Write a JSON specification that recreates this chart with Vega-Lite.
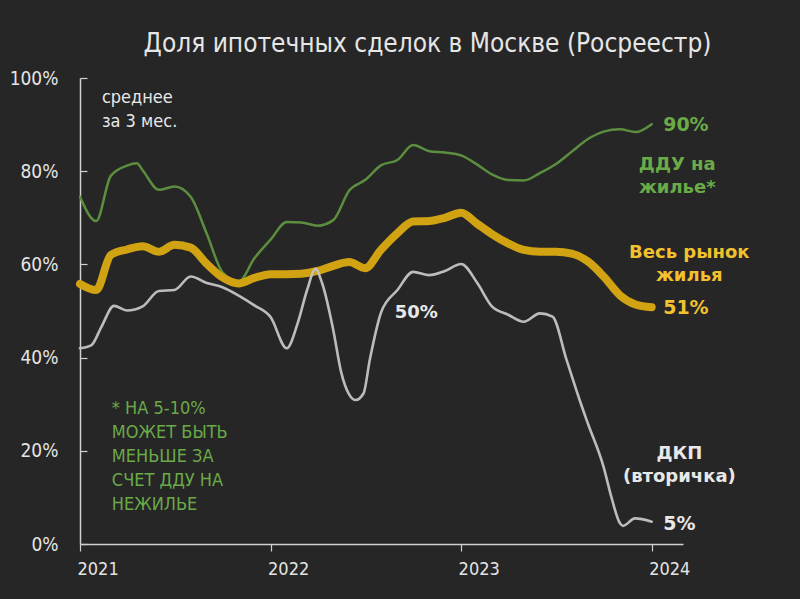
{
  "$schema": "https://vega.github.io/schema/vega-lite/v6.json",
  "autosize": {"type": "none"},
  "padding": {"left": 80, "top": 78, "right": 117, "bottom": 55},
  "width": 603,
  "height": 466,
  "background": "#262626",
  "config": {
    "view": {"stroke": null},
    "font": "DejaVu Sans Condensed",
    "axis": {"labelFont": "DejaVu Sans Condensed", "labelColor": "#e4e4e4", "domainColor": "#d0d0d0", "tickColor": "#d0d0d0", "grid": false, "title": null}
  },
  "title": {
    "text": "Доля ипотечных сделок в Москве (Росреестр)",
    "font": "DejaVu Sans Condensed",
    "fontSize": 26,
    "fontWeight": "normal",
    "color": "#e6e6e6",
    "anchor": "middle",
    "frame": "group",
    "dx": 46,
    "offset": -9,
    "baseline": "alphabetic"
  },
  "datasets": {
    "series": [
      {"s": "ДДУ", "d": "2021-01-01", "v": 74.5},
      {"s": "ДДУ", "d": "2021-02-01", "v": 69.3},
      {"s": "ДДУ", "d": "2021-03-01", "v": 79.0},
      {"s": "ДДУ", "d": "2021-04-01", "v": 81.2},
      {"s": "ДДУ", "d": "2021-04-20", "v": 81.7},
      {"s": "ДДУ", "d": "2021-05-01", "v": 80.2},
      {"s": "ДДУ", "d": "2021-06-01", "v": 76.0},
      {"s": "ДДУ", "d": "2021-07-01", "v": 76.7},
      {"s": "ДДУ", "d": "2021-08-01", "v": 74.5},
      {"s": "ДДУ", "d": "2021-09-01", "v": 66.5},
      {"s": "ДДУ", "d": "2021-10-01", "v": 58.3},
      {"s": "ДДУ", "d": "2021-11-01", "v": 56.3},
      {"s": "ДДУ", "d": "2021-12-01", "v": 61.3},
      {"s": "ДДУ", "d": "2022-01-01", "v": 65.3},
      {"s": "ДДУ", "d": "2022-02-01", "v": 69.1},
      {"s": "ДДУ", "d": "2022-03-01", "v": 69.0},
      {"s": "ДДУ", "d": "2022-04-01", "v": 68.3},
      {"s": "ДДУ", "d": "2022-05-01", "v": 69.5},
      {"s": "ДДУ", "d": "2022-06-01", "v": 75.9},
      {"s": "ДДУ", "d": "2022-07-01", "v": 78.1},
      {"s": "ДДУ", "d": "2022-08-01", "v": 81.3},
      {"s": "ДДУ", "d": "2022-09-01", "v": 82.4},
      {"s": "ДДУ", "d": "2022-10-01", "v": 85.6},
      {"s": "ДДУ", "d": "2022-11-01", "v": 84.3},
      {"s": "ДДУ", "d": "2022-12-01", "v": 84.0},
      {"s": "ДДУ", "d": "2023-01-01", "v": 83.4},
      {"s": "ДДУ", "d": "2023-02-01", "v": 81.4},
      {"s": "ДДУ", "d": "2023-03-01", "v": 79.3},
      {"s": "ДДУ", "d": "2023-04-01", "v": 78.1},
      {"s": "ДДУ", "d": "2023-05-01", "v": 78.0},
      {"s": "ДДУ", "d": "2023-06-01", "v": 79.6},
      {"s": "ДДУ", "d": "2023-07-01", "v": 81.5},
      {"s": "ДДУ", "d": "2023-08-01", "v": 84.2},
      {"s": "ДДУ", "d": "2023-09-01", "v": 86.9},
      {"s": "ДДУ", "d": "2023-10-01", "v": 88.5},
      {"s": "ДДУ", "d": "2023-11-01", "v": 89.0},
      {"s": "ДДУ", "d": "2023-12-01", "v": 88.4},
      {"s": "ДДУ", "d": "2024-01-01", "v": 90.1},
      {"s": "Весь", "d": "2021-01-01", "v": 55.8},
      {"s": "Весь", "d": "2021-02-01", "v": 54.5},
      {"s": "Весь", "d": "2021-03-01", "v": 62.0},
      {"s": "Весь", "d": "2021-04-01", "v": 63.2},
      {"s": "Весь", "d": "2021-05-01", "v": 63.9},
      {"s": "Весь", "d": "2021-06-01", "v": 62.7},
      {"s": "Весь", "d": "2021-07-01", "v": 64.2},
      {"s": "Весь", "d": "2021-08-01", "v": 63.6},
      {"s": "Весь", "d": "2021-09-01", "v": 60.1},
      {"s": "Весь", "d": "2021-10-01", "v": 57.2},
      {"s": "Весь", "d": "2021-11-01", "v": 55.9},
      {"s": "Весь", "d": "2021-12-01", "v": 57.1},
      {"s": "Весь", "d": "2022-01-01", "v": 57.9},
      {"s": "Весь", "d": "2022-02-01", "v": 57.9},
      {"s": "Весь", "d": "2022-03-01", "v": 58.0},
      {"s": "Весь", "d": "2022-04-01", "v": 58.6},
      {"s": "Весь", "d": "2022-05-01", "v": 59.7},
      {"s": "Весь", "d": "2022-06-01", "v": 60.5},
      {"s": "Весь", "d": "2022-07-01", "v": 59.2},
      {"s": "Весь", "d": "2022-08-01", "v": 63.2},
      {"s": "Весь", "d": "2022-09-01", "v": 66.7},
      {"s": "Весь", "d": "2022-10-01", "v": 69.2},
      {"s": "Весь", "d": "2022-11-01", "v": 69.3},
      {"s": "Весь", "d": "2022-12-01", "v": 70.0},
      {"s": "Весь", "d": "2023-01-01", "v": 71.1},
      {"s": "Весь", "d": "2023-02-01", "v": 68.7},
      {"s": "Весь", "d": "2023-03-01", "v": 66.5},
      {"s": "Весь", "d": "2023-04-01", "v": 64.5},
      {"s": "Весь", "d": "2023-05-01", "v": 63.1},
      {"s": "Весь", "d": "2023-06-01", "v": 62.7},
      {"s": "Весь", "d": "2023-07-01", "v": 62.7},
      {"s": "Весь", "d": "2023-08-01", "v": 62.3},
      {"s": "Весь", "d": "2023-09-01", "v": 60.6},
      {"s": "Весь", "d": "2023-10-01", "v": 57.4},
      {"s": "Весь", "d": "2023-11-01", "v": 53.4},
      {"s": "Весь", "d": "2023-12-01", "v": 51.4},
      {"s": "Весь", "d": "2024-01-01", "v": 50.8},
      {"s": "ДКП", "d": "2021-01-01", "v": 42.0},
      {"s": "ДКП", "d": "2021-01-23", "v": 42.7},
      {"s": "ДКП", "d": "2021-02-11", "v": 46.6},
      {"s": "ДКП", "d": "2021-03-07", "v": 51.1},
      {"s": "ДКП", "d": "2021-04-01", "v": 50.1},
      {"s": "ДКП", "d": "2021-05-01", "v": 51.0},
      {"s": "ДКП", "d": "2021-06-01", "v": 54.3},
      {"s": "ДКП", "d": "2021-07-01", "v": 54.5},
      {"s": "ДКП", "d": "2021-08-01", "v": 57.4},
      {"s": "ДКП", "d": "2021-09-01", "v": 56.0},
      {"s": "ДКП", "d": "2021-10-01", "v": 55.1},
      {"s": "ДКП", "d": "2021-11-01", "v": 53.3},
      {"s": "ДКП", "d": "2021-12-01", "v": 51.2},
      {"s": "ДКП", "d": "2022-01-01", "v": 48.7},
      {"s": "ДКП", "d": "2022-02-01", "v": 42.0},
      {"s": "ДКП", "d": "2022-02-22", "v": 47.4},
      {"s": "ДКП", "d": "2022-03-12", "v": 54.5},
      {"s": "ДКП", "d": "2022-03-28", "v": 59.0},
      {"s": "ДКП", "d": "2022-04-10", "v": 55.9},
      {"s": "ДКП", "d": "2022-05-01", "v": 46.0},
      {"s": "ДКП", "d": "2022-05-16", "v": 37.0},
      {"s": "ДКП", "d": "2022-06-01", "v": 32.0},
      {"s": "ДКП", "d": "2022-06-13", "v": 30.9},
      {"s": "ДКП", "d": "2022-06-28", "v": 32.3},
      {"s": "ДКП", "d": "2022-07-10", "v": 39.5},
      {"s": "ДКП", "d": "2022-08-01", "v": 49.8},
      {"s": "ДКП", "d": "2022-09-01", "v": 54.5},
      {"s": "ДКП", "d": "2022-10-01", "v": 58.4},
      {"s": "ДКП", "d": "2022-11-01", "v": 57.7},
      {"s": "ДКП", "d": "2022-12-01", "v": 58.6},
      {"s": "ДКП", "d": "2023-01-01", "v": 60.1},
      {"s": "ДКП", "d": "2023-02-01", "v": 56.0},
      {"s": "ДКП", "d": "2023-03-01", "v": 51.0},
      {"s": "ДКП", "d": "2023-04-01", "v": 49.2},
      {"s": "ДКП", "d": "2023-05-01", "v": 47.7},
      {"s": "ДКП", "d": "2023-06-01", "v": 49.5},
      {"s": "ДКП", "d": "2023-06-25", "v": 48.8},
      {"s": "ДКП", "d": "2023-07-22", "v": 39.5},
      {"s": "ДКП", "d": "2023-08-16", "v": 30.9},
      {"s": "ДКП", "d": "2023-09-01", "v": 25.8},
      {"s": "ДКП", "d": "2023-10-01", "v": 16.5},
      {"s": "ДКП", "d": "2023-10-16", "v": 10.0},
      {"s": "ДКП", "d": "2023-11-01", "v": 4.5},
      {"s": "ДКП", "d": "2023-11-07", "v": 3.9},
      {"s": "ДКП", "d": "2023-11-30", "v": 5.5},
      {"s": "ДКП", "d": "2024-01-01", "v": 4.8}
    ],
    "endLabels": [
      {"t": "90%", "d": "2024-01-23", "v": 89.9, "k": "ДДУ"},
      {"t": "51%", "d": "2024-01-23", "v": 50.6, "k": "Весь"},
      {"t": "5%", "d": "2024-01-23", "v": 4.3, "k": "ДКП"}
    ],
    "seriesLabels": [
      {"t": "ДДУ на\nжилье*", "d": "2024-02-19", "v": 81.3, "k": "ДДУ"},
      {"t": "Весь рынок\nжилья", "d": "2024-03-13", "v": 62.4, "k": "Весь"},
      {"t": "ДКП\n(вторичка)", "d": "2024-02-23", "v": 19.3, "k": "ДКП"},
      {"t": "50%", "d": "2022-10-07", "v": 49.6, "k": "ДКП"}
    ],
    "notes": [
      {"t": "среднее\nза 3 мес.", "d": "2021-02-12", "v": 95.7, "k": "avg"},
      {"t": "* НА 5-10%\nМОЖЕТ БЫТЬ\nМЕНЬШЕ ЗА\nСЧЕТ ДДУ НА\nНЕЖИЛЬЕ", "d": "2021-03-03", "v": 29.0, "k": "note"}
    ]
  },
  "data": {"name": "series"},
  "encoding": {
    "x": {
      "field": "d", "type": "temporal",
      "scale": {"type": "utc", "domain": [{"year": 2021, "month": 1, "date": 1, "utc": true}, {"year": 2024, "month": 3, "date": 1, "utc": true}]},
      "axis": {
        "values": [{"year": 2021, "month": 1, "date": 1, "utc": true}, {"year": 2022, "month": 1, "date": 1, "utc": true}, {"year": 2023, "month": 1, "date": 1, "utc": true}, {"year": 2024, "month": 1, "date": 1, "utc": true}],
        "format": "%Y",
        "labelAlign": "left",
        "labelOffset": -3,
        "labelFontSize": 18,
        "labelPadding": 9,
        "tickSize": 7,
        "domainWidth": 1.5,
        "tickWidth": 1.2
      }
    },
    "y": {
      "field": "v", "type": "quantitative",
      "scale": {"domain": [0, 100], "nice": false, "zero": true},
      "axis": {
        "values": [0, 20, 40, 60, 80, 100],
        "labelExpr": "datum.value + '%'",
        "labelFontSize": 19,
        "labelPadding": 29,
        "tickSize": -7,
        "domainWidth": 1.5,
        "tickWidth": 1.2
      }
    }
  },
  "layer": [
    {
      "transform": [{"filter": "datum.s === 'ДДУ'"}],
      "mark": {"type": "line", "color": "#5b8e3e", "strokeWidth": 2.5, "interpolate": "monotone", "strokeCap": "round"}
    },
    {
      "transform": [{"filter": "datum.s === 'Весь'"}],
      "mark": {"type": "line", "color": "#d1a313", "strokeWidth": 8, "interpolate": "monotone", "strokeCap": "round", "strokeJoin": "round"}
    },
    {
      "transform": [{"filter": "datum.s === 'ДКП'"}],
      "mark": {"type": "line", "color": "#c4c4c4", "strokeWidth": 2.6, "interpolate": "monotone", "strokeCap": "round", "opacity": 0.95}
    },
    {
      "data": {"name": "endLabels"},
      "mark": {"type": "text", "align": "left", "baseline": "middle", "font": "DejaVu Sans", "fontWeight": "bold", "fontSize": 19},
      "encoding": {
        "text": {"field": "t"},
        "color": {"field": "k", "type": "nominal", "scale": {"domain": ["ДДУ", "Весь", "ДКП", "avg", "note"], "range": ["#6aaa48", "#f2c12e", "#e8e8e8", "#e8e8e8", "#6aaa48"]}, "legend": null}
      }
    },
    {
      "data": {"name": "seriesLabels"},
      "mark": {"type": "text", "align": "center", "baseline": "middle", "font": "DejaVu Sans", "fontWeight": "bold", "fontSize": 18, "lineBreak": "\n", "lineHeight": 23},
      "encoding": {
        "text": {"field": "t"},
        "color": {"field": "k", "type": "nominal", "scale": {"domain": ["ДДУ", "Весь", "ДКП", "avg", "note"], "range": ["#6aaa48", "#f2c12e", "#e8e8e8", "#e8e8e8", "#6aaa48"]}, "legend": null}
      }
    },
    {
      "data": {"name": "notes"},
      "mark": {"type": "text", "align": "left", "baseline": "middle", "font": "DejaVu Sans Condensed", "fontSize": 18, "lineBreak": "\n", "lineHeight": 24},
      "encoding": {
        "text": {"field": "t"},
        "color": {"field": "k", "type": "nominal", "scale": {"domain": ["ДДУ", "Весь", "ДКП", "avg", "note"], "range": ["#6aaa48", "#f2c12e", "#e8e8e8", "#e8e8e8", "#6aaa48"]}, "legend": null}
      }
    }
  ]
}
